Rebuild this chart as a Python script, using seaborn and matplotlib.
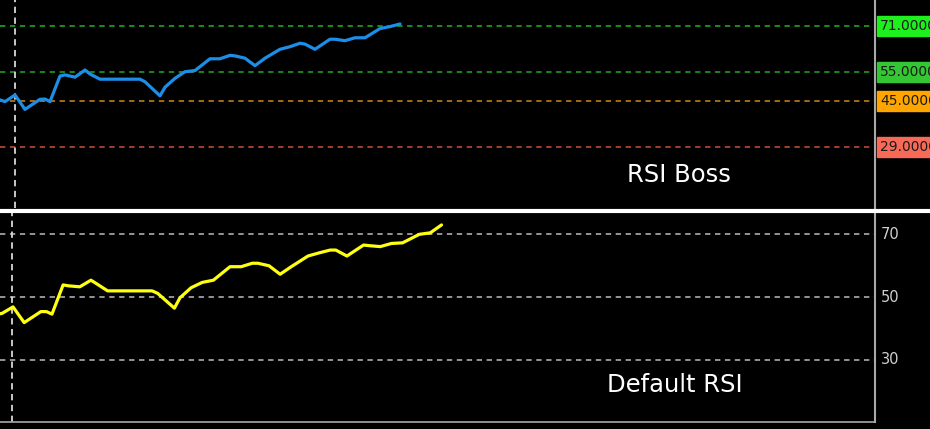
import numpy as np
import pandas as pd
import seaborn as sb
from matplotlib import pyplot as plt
from matplotlib.transforms import blended_transform_factory

# bar index of each turning point, shared by both indicators
bars = [0, 1, 3, 5, 8, 9, 10, 12, 13, 15, 17, 18, 20, 28, 29, 32, 33, 35, 37, 39,
        42, 44, 46, 47, 49, 51, 53, 56, 58, 60, 61, 63, 66, 67, 69, 71, 73, 76, 78, 80]

rsi_boss = [45.3, 44.7, 47.0, 42.0, 45.5, 45.6, 44.7, 53.6, 54.0, 53.2, 55.7, 54.3,
            52.5, 52.5, 51.6, 46.7, 49.7, 52.8, 55.1, 55.5, 59.6, 59.6, 60.8, 60.6,
            59.8, 57.2, 59.8, 62.9, 63.8, 65.0, 64.7, 62.9, 66.4, 66.4, 65.9, 66.9,
            66.9, 70.1, 70.8, 71.7]

default_rsi = [44.6, 44.8, 46.9, 41.9, 45.4, 45.4, 44.6, 53.9, 53.6, 53.3, 55.4, 54.3,
               52.0, 52.0, 51.2, 46.5, 49.8, 53.0, 54.7, 55.4, 59.7, 59.7, 60.8, 60.8,
               60.0, 57.3, 59.7, 63.1, 64.1, 65.0, 65.0, 63.1, 66.6, 66.4, 66.1, 67.1,
               67.3, 70.0, 70.5, 73.0]

boss_levels = [71, 55, 45, 29]
boss_line_colors = ['#22b422', '#22a822', '#d08a1a', '#d0503c']
boss_box_colors = ['#1ef01e', '#33c833', '#ffa500', '#f86a58']
default_levels = [70, 50, 30]
cursor_bar = 2.9

df = pd.DataFrame({'bar': bars, 'boss': rsi_boss, 'default': default_rsi})

sb.set_style('dark', {'axes.facecolor': 'black', 'figure.facecolor': 'black'})
plt.rcParams['font.family'] = ['DejaVu Sans']

fig = plt.figure(figsize=(9.3, 4.29), dpi=100)
fig.patch.set_facecolor('black')

# top panel: RSI Boss --------------------
ax1 = fig.add_axes([0, 221 / 429, 875 / 930, 208 / 429])
ax1.set_facecolor('black')
for lvl, c in zip(boss_levels, boss_line_colors):
    ax1.axhline(lvl, color=c, lw=1.1, dashes=(3.5, 3))
ax1.axvline(cursor_bar, color='#d8d8d8', lw=1.3, dashes=(3.5, 2.5))
sb.lineplot(data=df, x='bar', y='boss', ax=ax1, color='#1c8ee8', lw=2.3)
ax1.set_xlim(0, 175)
ax1.set_ylim(7.7, 80.04)
tr1 = blended_transform_factory(ax1.transAxes, ax1.transData)
for lvl, c in zip(boss_levels, boss_box_colors):
    ax1.text(1.006, lvl, '%.4f' % lvl, transform=tr1, va='center', ha='left',
             fontsize=10, color='#1a1a1a', clip_on=False,
             bbox=dict(boxstyle='square,pad=0.2', fc=c, ec=c))
ax1.text(627 / 875, 0.127, 'RSI Boss', transform=ax1.transAxes, color='white',
         fontsize=17.5, va='baseline')

# bottom panel: default RSI --------------
ax2 = fig.add_axes([0, 7 / 429, 875 / 930, 209 / 429])
ax2.set_facecolor('black')
for lvl in default_levels:
    ax2.axhline(lvl, color='#bdbdbd', lw=1.1, dashes=(3.5, 3))
ax2.axvline(cursor_bar, color='#d8d8d8', lw=1.3, dashes=(3.5, 2.5))
sb.lineplot(data=df, x='bar', y='default', ax=ax2, color='#ffff10', lw=2.3)
ax2.set_xlim(0.66, 157.9)
ax2.set_ylim(10.25, 76.8)
tr2 = blended_transform_factory(ax2.transAxes, ax2.transData)
for lvl in default_levels:
    ax2.text(1.007, lvl, str(lvl), transform=tr2, va='center', ha='left',
             fontsize=10.5, color='#d0d0d0', clip_on=False)
ax2.text(607 / 875, 0.143, 'Default RSI', transform=ax2.transAxes, color='white',
         fontsize=17.5, va='baseline')

for ax in [ax1, ax2]:
    ax.set_xlabel('')
    ax.set_ylabel('')
    ax.set_xticks([])
    ax.set_yticks([])
    ax.grid(False)
    for s in ['top', 'left']:
        ax.spines[s].set_visible(False)
    ax.spines['right'].set_visible(True)
    ax.spines['right'].set_color('#a8a8a8')
    ax.spines['right'].set_linewidth(1.5)
ax1.spines['bottom'].set_visible(False)
ax2.spines['bottom'].set_color('#a8a8a8')
ax2.spines['bottom'].set_linewidth(1.2)

# white separator between the panels
fig.add_artist(plt.Line2D([0, 1], [218 / 429, 218 / 429], color='white', lw=3,
                          transform=fig.transFigure))

plt.savefig('out.png', dpi=100, facecolor='black')
